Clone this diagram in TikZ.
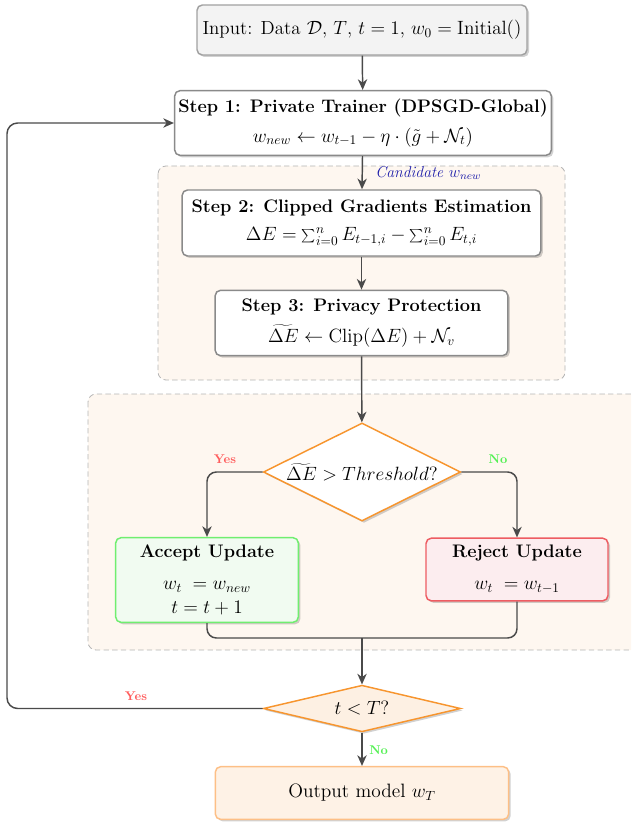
\documentclass[tikz,border=0pt]{standalone}
\usetikzlibrary{shapes.geometric,arrows.meta,shadows,calc}
\definecolor{linegray}{HTML}{4A4A4A}
\definecolor{boxgray}{HTML}{8A8A8A}
\definecolor{inputfill}{HTML}{F3F3F3}
\definecolor{zonefill}{HTML}{FEF7F0}
\definecolor{zoneline}{HTML}{B4B4B4}
\definecolor{decline}{HTML}{F7952E}
\definecolor{decfill}{HTML}{FDF0E3}
\definecolor{accline}{HTML}{70EE70}
\definecolor{accfill}{HTML}{F1FBF1}
\definecolor{rejline}{HTML}{EE5C62}
\definecolor{rejfill}{HTML}{FCEDEF}
\definecolor{outline}{HTML}{FDBF86}
\definecolor{outfill}{HTML}{FEF2E6}
\definecolor{yescol}{HTML}{FF5C5C}
\definecolor{nocol}{HTML}{55F055}
\definecolor{candcol}{HTML}{1E1EAA}
\newcommand{\boxtitle}[1]{{\fontsize{13.6}{16}\selectfont\bfseries #1}}
\tikzset{
  basefont/.style={font=\fontsize{14.5}{17}\selectfont},
  softshadow/.style={drop shadow={shadow xshift=1.5pt,shadow yshift=-1.5pt,opacity=0.18,fill=black}},
  procbox/.style={basefont,draw=boxgray,line width=1.1pt,fill=white,rounded corners=4pt,
    align=center,inner sep=0pt,softshadow},
  decbox/.style={basefont,shape=diamond,draw=decline,line width=1.1pt,inner sep=0pt,softshadow},
  zone/.style={draw=zoneline,dashed,dash pattern=on 4pt off 2.5pt,line width=0.6pt,fill=zonefill,rounded corners=6pt},
  flow/.style={draw=linegray,line width=1.1pt,-{Stealth[length=8pt,width=7pt,inset=2.5pt]}},
  joinline/.style={draw=linegray,line width=1.1pt},
  branch/.style={font=\fontsize{9.5}{11}\selectfont\bfseries},
}
\begin{document}
\begin{tikzpicture}[x=0.75pt,y=-0.75pt]
\useasboundingbox (0,0) rectangle (631,823);
\clip (0,0) rectangle (631,823);

% dashed background zones
\path[zone] (158,166) rectangle (565,380);
\path[zone] (88,394) rectangle (650,650);

% process boxes
\node[procbox,font=\fontsize{14.2}{17}\selectfont,fill=inputfill,draw=boxgray!80,minimum width=247.5pt,minimum height=37.5pt]
  (in) at (362,30) {Input: Data $\mathcal{D}$, $T$, $t=1$, $w_0=\mathrm{Initial}()$};
\node[procbox,minimum width=282.5pt,minimum height=48.5pt] (s1) at (363,123)
  {\boxtitle{Step 1: Private Trainer (DPSGD-Global)}\\[5pt]
   $w_{new} \leftarrow w_{t-1} - \eta\cdot(\tilde{g}+\mathcal{N}_t)$};
\node[procbox,minimum width=269pt,minimum height=49.5pt] (s2) at (361.5,223)
  {\boxtitle{Step 2: Clipped Gradients Estimation}\\[4pt]
   $\Delta E = \sum_{i=0}^{n} E_{t-1,i} - \sum_{i=0}^{n} E_{t,i}$};
\node[procbox,minimum width=219.5pt,minimum height=49pt] (s3) at (361.5,323)
  {\boxtitle{Step 3: Privacy Protection}\\[6pt]
   $\widetilde{\Delta E} \leftarrow \mathrm{Clip}(\Delta E) + \mathcal{N}_v$};

% threshold test
\node[decbox,fill=white,aspect=2,minimum width=148pt,minimum height=73.5pt] (d1) at (362,472)
  {$\widetilde{\Delta E} > Threshold?$};

\node[procbox,draw=accline,fill=accfill,minimum width=137pt,minimum height=63.5pt] (acc) at (207,580)
  {\boxtitle{Accept Update}\\[7pt] $w_t\;=w_{new}$\\[0.5pt] $t=t+1$};
\node[procbox,draw=rejline,fill=rejfill,minimum width=136.5pt,minimum height=47pt] (rej) at (517,569.5)
  {\boxtitle{Reject Update}\\[7pt] $w_t\;=w_{t-1}$};

% loop test
\node[decbox,fill=decfill,aspect=4.3,minimum width=148pt,minimum height=35pt] (d2) at (362,708.5)
  {$t<T?$};

\node[procbox,draw=outline,fill=outfill,minimum width=220pt,minimum height=39.5pt] (out) at (362,793)
  {Output model $w_T$};

\coordinate (mrg) at (362,638);
\coordinate (fb) at (7,708.5);

% connectors
\draw[flow] (in) -- (s1);
\draw[flow] (s1) -- (s2);
\node[anchor=west,text=candcol,font=\fontsize{11.8}{13}\selectfont\itshape,inner sep=0pt]
  (cand) at (375,173) {Candidate $w_{new}$};
\draw[flow] (s2) -- (s3);
\draw[flow] (s3) -- (d1);
\draw[flow,rounded corners=7pt] (d1.west) -| (acc.north);
\draw[flow,rounded corners=7pt] (d1.east) -| (rej.north);
\node[branch,text=yescol] (y1) at (225,459) {Yes};
\node[branch,text=nocol] (n1) at (498,459) {No};
\draw[joinline,rounded corners=7pt] (acc.south) |- (mrg) -| (rej.south);
\draw[flow] (mrg) -- (d2.north);
\draw[flow,rounded corners=8pt] (d2.west) -- (fb) |- (s1.west);
\node[branch,text=yescol] (y2) at (136,696) {Yes};
\draw[flow] (d2.south) -- (out.north);
\node[branch,text=nocol,anchor=west,inner sep=0pt] (n2) at (369,750) {No};
\end{tikzpicture}
\end{document}
